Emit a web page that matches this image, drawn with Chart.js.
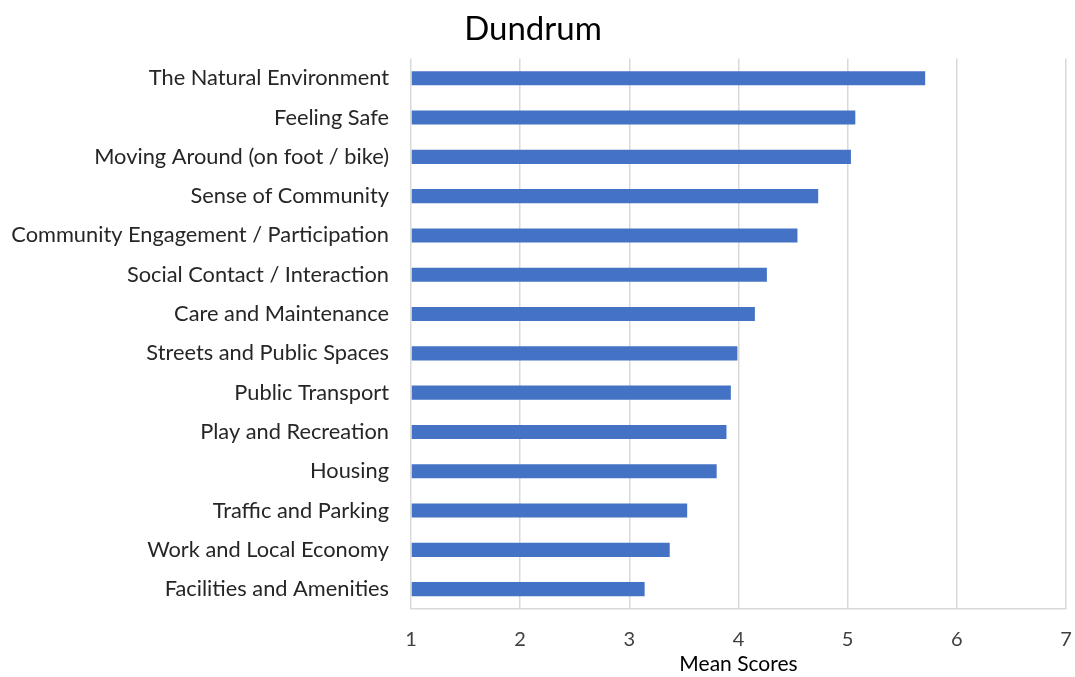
<!DOCTYPE html>
<html>
<head>
<meta charset="utf-8">
<script src="https://cdn.jsdelivr.net/npm/chart.js@4/dist/chart.umd.min.js"></script>
<style>
  html, body { margin: 0; padding: 0; background: #fff; }
  #wrap { width: 1075px; height: 677px; }
</style>
</head>
<body>
<div id="wrap"><canvas id="myChart"></canvas></div>
<script>
// categories, top to bottom
var categories = [
    'The Natural Environment',
    'Feeling Safe',
    'Moving Around (on foot / bike)',
    'Sense of Community',
    'Community Engagement / Participation',
    'Social Contact / Interaction',
    'Care and Maintenance',
    'Streets and Public Spaces',
    'Public Transport',
    'Play and Recreation',
    'Housing',
    'Traffic and Parking',
    'Work and Local Economy',
    'Facilities and Amenities'
];
var meanScores = [5.71, 5.07, 5.03, 4.73, 4.54, 4.26, 4.15, 3.99, 3.93, 3.89, 3.80, 3.53, 3.37, 3.14];
var xTicks = [1, 2, 3, 4, 5, 6, 7];

document.addEventListener('DOMContentLoaded', function () {
    var font = 'Lato, "Open Sans", sans-serif';
    var ctx = document.getElementById('myChart').getContext('2d');
    var myChart = new Chart(ctx, {
        type: 'bar',
        data: {
            labels: categories,
            datasets: [{
                label: 'Mean Scores',
                data: meanScores,
                backgroundColor: '#4472C4',
                borderWidth: 0,
                barPercentage: 0.36,
                categoryPercentage: 1.0,
                base: 1
            }]
        },
        options: {
            indexAxis: 'y',
            responsive: true,
            maintainAspectRatio: false,
            animation: false,
            layout: { padding: { top: 10, right: 9, bottom: 0, left: 0 } },
            plugins: {
                legend: { display: false },
                tooltip: { enabled: false },
                title: {
                    display: true,
                    text: 'Dundrum',
                    color: '#000',
                    font: { family: font, size: 33, weight: 'normal' },
                    padding: { top: 0, bottom: 9 }
                }
            },
            scales: {
                x: {
                    min: xTicks[0],
                    max: xTicks[xTicks.length - 1],
                    afterBuildTicks: function (axis) {
                        axis.ticks = xTicks.map(function (v) { return { value: v }; });
                    },
                    afterFit: function (axis) { axis.paddingRight = 0; },
                    grid: { color: '#d9d9d9', lineWidth: 1.5, drawTicks: false },
                    border: { color: '#d9d9d9', width: 1.5 },
                    ticks: { color: '#404040', font: { family: font, size: 20 }, padding: 19 },
                    title: {
                        display: true,
                        text: 'Mean Scores',
                        color: '#000',
                        font: { family: font, size: 21 },
                        padding: { top: -19, bottom: 0 }
                    }
                },
                y: {
                    grid: { display: false, drawTicks: false },
                    border: { display: false },
                    afterFit: function (axis) { axis.width = 411; },
                    ticks: { color: '#262626', font: { family: font, size: 21.8 }, padding: 22 }
                }
            }
        }
    });
});
</script>
</body>
</html>
